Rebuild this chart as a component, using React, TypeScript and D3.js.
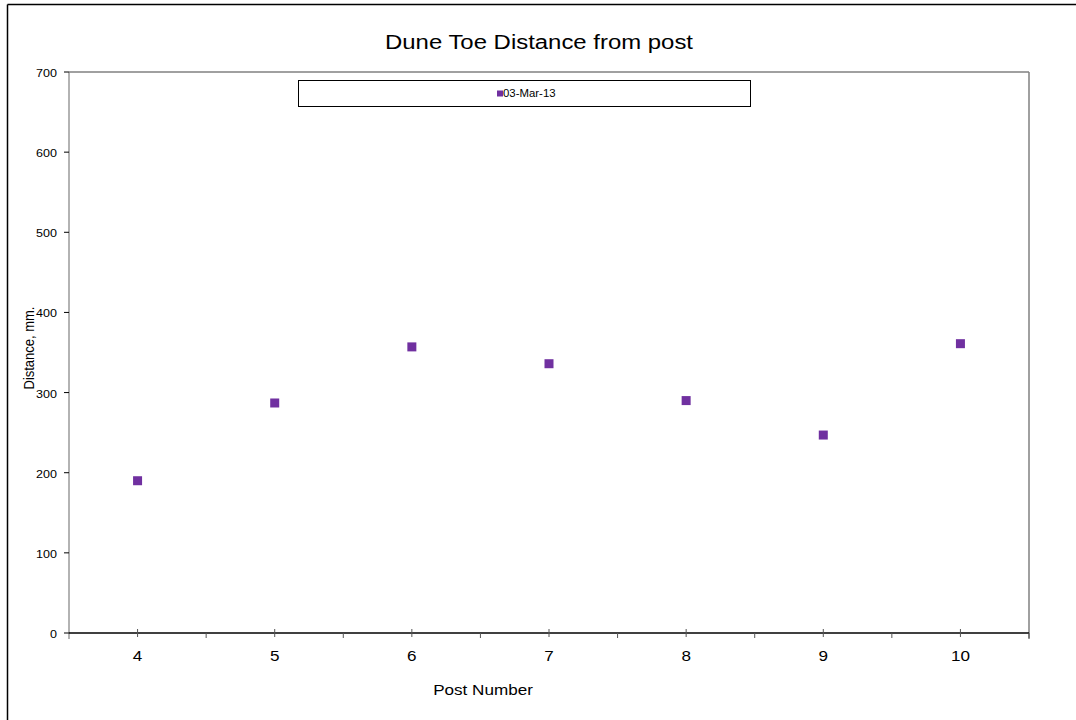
import React from "react";
import * as d3 from "d3";

const posts = ["4", "5", "6", "7", "8", "9", "10"];
const distances = [190, 287, 357, 336, 290, 247, 361];
const yTicks = [0, 100, 200, 300, 400, 500, 600, 700];
const seriesName = "03-Mar-13";
const title = "Dune Toe Distance from post";
const xTitle = "Post Number";
const yTitle = "Distance, mm.";

const W = 1076;
const H = 720;
const plot = { left: 69, top: 72, right: 1029, bottom: 633 };
const purple = "#7030A0";
const font = "'Liberation Sans', Arial, sans-serif";
const SX = 1.14;

function T(props: { x: number; y: number; size: number; anchor?: string; children: React.ReactNode }) {
  return (
    <text
      transform={`translate(${props.x},${props.y}) scale(${SX},1)`}
      textAnchor={props.anchor || "middle"}
      fontSize={props.size}
      fill="#000"
    >
      {props.children}
    </text>
  );
}

export default function App() {
  const x = d3.scaleBand<string>().domain(posts).range([plot.left, plot.right]).padding(0);
  const y = d3.scaleLinear().domain([0, 700]).range([plot.bottom, plot.top]);
  const boundaries = posts.map((_, i) => plot.left + x.step() * (i + 1));

  return (
    <svg
      width={W}
      height={H}
      style={{ position: "absolute", left: 0, top: 0, fontFamily: font }}
    >
      <rect x={0} y={0} width={W} height={H} fill="#fff" />
      {/* outer chart border */}
      <line x1={7.5} y1={4.5} x2={W} y2={4.5} stroke="#000" strokeWidth={1.5} />
      <line x1={7.5} y1={4.5} x2={7.5} y2={H} stroke="#000" strokeWidth={1.5} />

      <T x={539} y={49} size={21}>{title}</T>

      {/* plot area frame */}
      <line x1={plot.left} y1={plot.top} x2={plot.right} y2={plot.top} stroke="#808080" strokeWidth={1.5} />
      <line x1={plot.right} y1={plot.top} x2={plot.right} y2={plot.bottom + 6} stroke="#808080" strokeWidth={1.5} />
      <line x1={plot.left} y1={plot.top} x2={plot.left} y2={plot.bottom + 6} stroke="#808080" strokeWidth={1.2} />

      {/* y ticks */}
      {yTicks.map((t) => (
        <g key={t}>
          <line x1={plot.left - 5} x2={plot.left} y1={y(t)} y2={y(t)} stroke="#000" />
          <T x={plot.left - 12} y={y(t) + 5} size={11} anchor="end">{t}</T>
        </g>
      ))}

      {/* x axis */}
      <line x1={plot.left} y1={plot.bottom} x2={plot.right} y2={plot.bottom} stroke="#000" strokeWidth={1.5} />
      {boundaries.map((b, i) => (
        <line key={"b" + i} x1={b} x2={b} y1={plot.bottom} y2={plot.bottom + 5} stroke="#555" />
      ))}
      {posts.map((p) => {
        const cx = (x(p) as number) + x.bandwidth() / 2;
        return (
          <g key={p}>
            <line x1={cx} x2={cx} y1={plot.bottom - 4} y2={plot.bottom + 4} stroke="#555" />
            <T x={cx} y={661} size={15}>{p}</T>
          </g>
        );
      })}

      <T x={483} y={695} size={15}>{xTitle}</T>
      <text
        transform={`translate(34,348) scale(${SX},1) rotate(-90)`}
        textAnchor="middle"
        fontSize={13}
        fill="#000"
      >
        {yTitle}
      </text>

      {/* points */}
      {distances.map((d, i) => {
        const cx = (x(posts[i]) as number) + x.bandwidth() / 2;
        return <rect key={i} x={cx - 4.5} y={y(d) - 4.5} width={9} height={9} fill={purple} />;
      })}

      {/* legend */}
      <rect x={298.5} y={80.5} width={452} height={26} fill="#fff" stroke="#000" />
      <rect x={497} y={90.5} width={6} height={6} fill={purple} />
      <T x={503} y={97} size={10} anchor="start">{seriesName}</T>
    </svg>
  );
}
